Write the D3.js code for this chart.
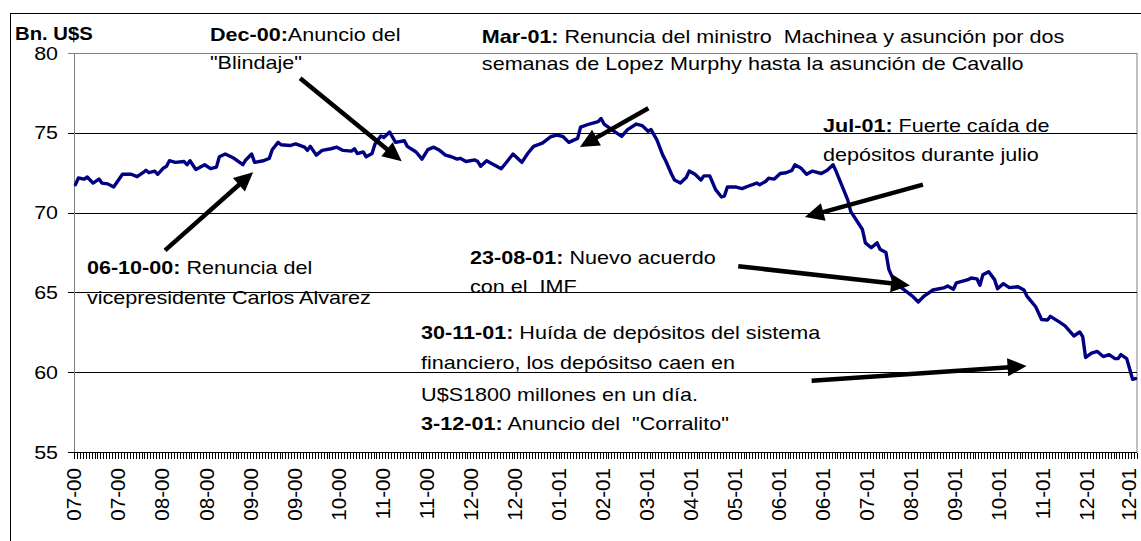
<!DOCTYPE html>
<html>
<head>
<meta charset="utf-8">
<script src="https://cdn.jsdelivr.net/npm/d3@7"></script>
<style>
  body { margin: 0; background: #fff; }
  text { font-family: "Liberation Sans", Arial, sans-serif; white-space: pre; }
</style>
</head>
<body>
<svg id="chart" width="1141" height="541"></svg>
<script>
// ---------------- data ----------------
const categoryCount = 362;
const xTickLabels = ["07-00","07-00","08-00","08-00","09-00","09-00","10-00","11-00","11-00","12-00","12-00",
  "01-01","02-01","03-01","04-01","05-01","06-01","06-01","07-01","08-01","09-01","10-01","11-01","12-01","12-01"];
const labelEvery = 15;
const yTicks = [55, 60, 65, 70, 75, 80];
const yUnit = "Bn. U$S";

const dayIndex = [0,1,3,4,6,8,9,11,13,16,19,21,23,24,25,27,28,30,31,32,34,37,38,39,41,44,46,48,49,51,54,57,58,60,61,64,66,67,69,70,73,75,78,79,80,82,84,87,89,91,94,95,96,98,99,101,102,104,105,107,109,112,113,116,118,120,122,124,126,128,130,131,133,136,137,138,140,142,145,147,149,152,154,156,159,162,164,166,168,171,172,175,178,179,180,183,186,188,191,193,195,196,198,200,201,203,204,206,208,209,211,213,214,216,218,220,221,222,225,227,229,232,233,235,236,238,240,242,244,245,247,249,251,254,256,258,259,260,263,264,268,269,271,273,274,276,277,279,282,285,287,289,292,296,297,299,300,304,305,307,308,309,311,313,314,316,318,321,323,324,327,329,331,332,335,337,340,342,343,344,346,348,350,352,354,355,356,358,360,361];
const deposits = [71.75,72.17,72.1,72.23,71.85,72.1,71.85,71.8,71.6,72.4,72.4,72.25,72.5,72.65,72.5,72.6,72.4,72.8,72.9,73.25,73.15,73.2,73.0,73.25,72.7,73.0,72.75,72.85,73.5,73.67,73.4,73.0,73.3,73.67,73.15,73.25,73.4,73.94,74.4,74.25,74.2,74.3,74.1,73.9,74.15,73.6,73.9,74.0,74.1,73.9,73.85,74.0,73.7,73.8,73.5,73.7,74.3,74.8,74.7,75.05,74.4,74.5,74.15,73.8,73.35,73.95,74.1,73.9,73.6,73.5,73.35,73.4,73.2,73.3,73.2,72.9,73.25,73.05,72.75,73.2,73.67,73.15,73.7,74.15,74.35,74.77,74.85,74.77,74.4,74.65,75.35,75.55,75.7,75.9,75.55,75.15,74.77,75.2,75.55,75.45,75.1,75.2,74.56,73.6,73.25,72.4,72.04,71.85,72.2,72.6,72.4,72.04,72.3,72.3,71.44,70.98,71.05,71.6,71.6,71.5,71.65,71.85,71.75,71.95,72.15,72.1,72.45,72.5,72.65,73.0,72.8,72.4,72.6,72.45,72.65,73.0,72.6,72.15,70.8,70.08,68.94,68.1,67.8,68.1,67.7,67.5,66.44,65.6,65.19,64.77,64.4,64.77,65.15,65.3,65.4,65.2,65.6,65.8,65.9,65.85,65.45,66.1,66.3,65.8,65.23,65.55,65.3,65.35,65.15,64.77,64.1,63.3,63.27,63.5,63.15,62.9,62.27,62.52,62.23,60.92,61.2,61.3,60.98,61.1,60.85,60.85,61.1,60.85,59.56,59.6];

// annotations (anchored in data coordinates: category position, value)
const noteAnchors = [[46.3,80.78],[138.9,80.61],[255.1,75.03],[4.4,66.125],[134.85,66.81],[118.2,62.06]];
const noteTexts = [
  [[["Dec-00:",1],["Anuncio del",0]], [["\"Blindaje\"",0]]],
  [[["Mar-01:",1],[" Renuncia del ministro  Machinea y asunción por dos",0]], [["semanas de Lopez Murphy hasta la asunción de Cavallo",0]]],
  [[["Jul-01:",1],[" Fuerte caída de",0]], [["depósitos durante julio",0]]],
  [[["06-10-00:",1],[" Renuncia del",0]], [["vicepresidente Carlos Alvarez",0]]],
  [[["23-08-01:",1],[" Nuevo acuerdo",0]], [["con el  IMF",0]]],
  [[["30-11-01:",1],[" Huída de depósitos del sistema",0]], [["financiero, los depósitso caen en",0]], [["U$S1800 millones en un día.",0]], [["3-12-01:",1],[" Anuncio del  \"Corralito\"",0]]]
];
const arrowFrom = [[31.0,67.63],[77.0,78.42],[195.6,76.54],[289.1,71.75],[226.2,66.64],[251.2,59.46]];
const arrowTo   = [[61.0,72.53],[111.6,73.21],[172.3,74.11],[248.9,69.72],[284.7,65.44],[324.4,60.39]];

// ---------------- styles / layout ----------------
const noteLineOffsets = [[0,28],[0,27.2],[0,28.5],[0,30],[0,29.5],[0,29.5,61.5,90.5]];
const plot = {left: 74, top: 53, right: 1137, bottom: 452};
const SX = 1.16;            // horizontal stretch of the original text
const noteFont = 18.6;
const lineColor = "#000080";

const svg = d3.select("#chart");

const x = d3.scaleLinear().domain([0, categoryCount]).range([plot.left, plot.right]);
const y = d3.scaleLinear().domain([55, 80]).range([plot.bottom, plot.top]);

// outer chart border
svg.append("rect").attr("x", 10.5).attr("y", 13.5).attr("width", 1200).attr("height", 600)
  .attr("fill", "#fff").attr("stroke", "#000").attr("stroke-width", 1);

// plot area
svg.append("rect").attr("x", plot.left + 0.5).attr("y", plot.top + 0.5)
  .attr("width", plot.right - plot.left - 0.5).attr("height", plot.bottom - plot.top)
  .attr("fill", "#fff").attr("stroke", "#808080").attr("stroke-width", 1);

// gridlines (with small outside ticks)
const grid = svg.append("g").attr("shape-rendering", "crispEdges");
grid.selectAll("line").data(yTicks).join("line")
  .attr("x1", plot.left - 6).attr("x2", plot.right)
  .attr("y1", d => Math.round(y(d)) + 0.5).attr("y2", d => Math.round(y(d)) + 0.5)
  .attr("stroke", d => d === 80 ? "#808080" : "#000").attr("stroke-width", 1);

// left axis line
svg.append("line").attr("x1", plot.left + 0.5).attr("x2", plot.left + 0.5)
  .attr("y1", plot.top).attr("y2", plot.bottom).attr("stroke", "#808080");

// y labels
const yl = svg.append("g");
yTicks.forEach(v => {
  yl.append("g").attr("transform", `translate(${plot.left - 16},${y(v) + 0.36 * 18.5}) scale(${SX},1)`)
    .append("text").attr("text-anchor", "end").attr("font-size", 18.5).attr("fill", "#000").text(v);
});

// unit label
svg.append("g").attr("transform", `translate(15,40) scale(${SX},1)`)
  .append("text").attr("font-size", 17.5).attr("font-weight", "bold").text(yUnit);

// x axis with a tick between every category
const xAxis = d3.axisBottom(x).tickValues(d3.range(categoryCount + 1)).tickSize(6).tickFormat("");
const xg = svg.append("g").attr("transform", `translate(0,${plot.bottom + 0.5})`).call(xAxis);
xg.select(".domain").remove();
xg.selectAll(".tick line").attr("stroke", "#000").attr("shape-rendering", "crispEdges");
svg.append("line").attr("x1", plot.left - 6).attr("x2", plot.right)
  .attr("y1", plot.bottom + 0.5).attr("y2", plot.bottom + 0.5).attr("stroke", "#000");

// x labels (kept inside the picture edge)
svg.append("g").selectAll("text").data(xTickLabels).join("text")
  .attr("transform", (d, i) => `translate(${Math.min(x(i * labelEvery + 0.5) - 1.3, plot.right - 8.5)},468) rotate(-90)`)
  .attr("text-anchor", "end").attr("dy", "0.35em").attr("font-size", 20.6).text(d => d);

// series
const pts = dayIndex.map((d, i) => [d, deposits[i]]);
svg.append("path").datum(pts)
  .attr("fill", "none").attr("stroke", lineColor).attr("stroke-width", 3.4)
  .attr("stroke-linejoin", "round").attr("stroke-linecap", "round")
  .attr("d", d3.line().x(d => x(d[0] + 0.5)).y(d => y(d[1])));

// arrows
const ag = svg.append("g");
arrowFrom.forEach((a, i) => {
  const p1 = [x(a[0]), y(a[1])];
  const p2 = [x(arrowTo[i][0]), y(arrowTo[i][1])];
  const dx = p2[0] - p1[0], dy = p2[1] - p1[1];
  const len = Math.hypot(dx, dy);
  const u = [dx / len, dy / len], n = [-u[1], u[0]];
  const L = 19, W = 9;
  const base = [p2[0] - u[0] * L, p2[1] - u[1] * L];
  ag.append("line").attr("x1", p1[0]).attr("y1", p1[1])
    .attr("x2", base[0] + u[0] * 2).attr("y2", base[1] + u[1] * 2)
    .attr("stroke", "#000").attr("stroke-width", 4.5);
  ag.append("polygon").attr("points", [p2, [base[0] + n[0] * W, base[1] + n[1] * W], [base[0] - n[0] * W, base[1] - n[1] * W]].map(p => p.join(",")).join(" "))
    .attr("fill", "#000");
});

// annotation texts
const tg = svg.append("g");
noteTexts.forEach((lines, i) => {
  const ax = x(noteAnchors[i][0]), ay = y(noteAnchors[i][1]);
  lines.forEach((parts, j) => {
    const t = tg.append("g").attr("transform", `translate(${ax},${ay + noteLineOffsets[i][j]}) scale(${SX},1)`)
      .append("text").attr("font-size", noteFont).attr("fill", "#000");
    parts.forEach(p => t.append("tspan").attr("font-weight", p[1] ? "bold" : "normal").text(p[0]));
  });
});
</script>
</body>
</html>
